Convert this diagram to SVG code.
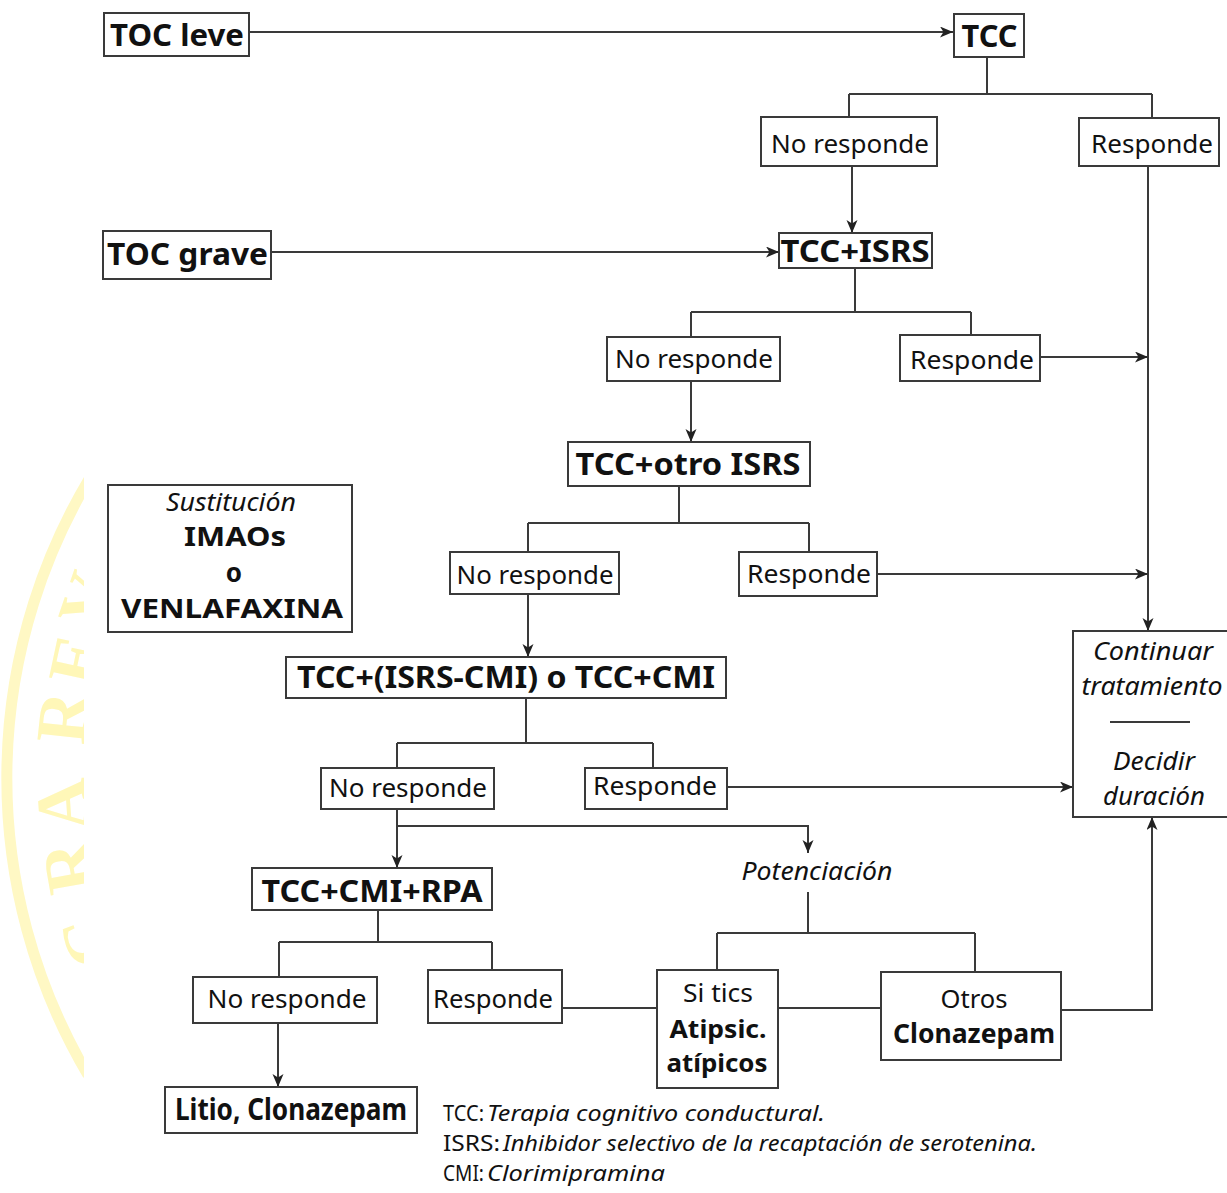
<svg xmlns="http://www.w3.org/2000/svg" width="1227" height="1193" viewBox="0 0 1227 1193">
<defs>
<marker id="ah" markerUnits="userSpaceOnUse" markerWidth="14" markerHeight="12" refX="13" refY="5.5" orient="auto">
<path d="M0,0 L13,5.5 L0,11 L3.5,5.5 Z" fill="#222"/>
</marker>
<clipPath id="wmclip"><rect x="0" y="0" width="84" height="1193"/></clipPath>
</defs>
<style>
.box{fill:#fff;stroke:#3a3a3a;stroke-width:2}
.ln{fill:none;stroke:#3a3a3a;stroke-width:2}
.ar{fill:none;stroke:#3a3a3a;stroke-width:2;marker-end:url(#ah)}
.b{font-family:"Noto Sans","Open Sans",sans-serif;font-weight:bold;font-size:30px;fill:#111;text-anchor:middle}
.r{font-family:"Noto Sans","Open Sans",sans-serif;font-size:26px;fill:#111;text-anchor:middle}
.i{font-family:"Noto Sans","Open Sans",sans-serif;font-style:italic;font-size:26px;fill:#111;text-anchor:middle}
.tb{font-weight:bold;font-style:normal}
.tr{font-weight:normal;font-style:normal}
.lg{font-family:"Noto Sans","Open Sans",sans-serif;font-size:22px;fill:#111}
.lgi{font-family:"Noto Sans","Open Sans",sans-serif;font-style:italic;font-size:22px;fill:#111}
.wm{font-family:"Liberation Serif",serif;font-weight:bold;font-size:72px;fill:#FFF7B8;text-anchor:middle}
</style>
<rect x="0" y="0" width="1227" height="1193" fill="#fff"/>
<g id="watermark" clip-path="url(#wmclip)">
<path d="M101,460 A584,584 0 0 0 88,1075" fill="none" stroke="#FFF8C4" stroke-width="11"/>
<text class="wm" transform="translate(111,608) rotate(-71)">V</text>
<text class="wm" transform="translate(100,665) rotate(-78)">E</text>
<text class="wm" transform="translate(87,720) rotate(-84)">R</text>
<text class="wm" transform="translate(86,803) rotate(-94)">A</text>
<text class="wm" transform="translate(93,863) rotate(-100)">R</text>
<text class="wm" transform="translate(112,933) rotate(-109)">C</text>
</g>
<g id="connectors">
<path class="ar" d="M249,32 H953"/>
<path class="ln" d="M987,57 V94 M849,94 H1152 M849,94 V117 M1152,94 V118"/>
<path class="ar" d="M852,166 V233"/>
<path class="ar" d="M1148,166 V631"/>
<path class="ar" d="M271,252 H779"/>
<path class="ln" d="M855,268 V312 M691,312 H971 M691,312 V337 M971,312 V335"/>
<path class="ar" d="M1040,357 H1148"/>
<path class="ar" d="M691,381 V442"/>
<path class="ln" d="M679,486 V523 M528,523 H809 M528,523 V552 M809,523 V552"/>
<path class="ar" d="M877,574 H1148"/>
<path class="ar" d="M528,594 V657"/>
<path class="ln" d="M526,698 V743 M397,743 H653 M397,743 V768 M653,743 V768"/>
<path class="ar" d="M727,787 H1073"/>
<path class="ar" d="M397,809 V868"/>
<path class="ar" d="M397,826 H808 V853"/>
<path class="ln" d="M808,892 V933 M717,933 H975 M717,933 V970 M975,933 V972"/>
<path class="ln" d="M378,910 V942 M279,942 H492 M279,942 V977 M492,942 V970"/>
<path class="ar" d="M278,1023 V1087"/>
<path class="ln" d="M562,1008 H657 M778,1008 H881"/>
<path class="ar" d="M1061,1010 H1152 V817"/>
</g>
<g id="toc-leve"><rect class="box" x="104" y="13" width="145" height="43"/><text class="b" x="177" y="46" textLength="134" lengthAdjust="spacingAndGlyphs">TOC leve</text></g>
<g id="tcc"><rect class="box" x="954" y="14" width="70" height="43"/><text class="b" x="989.5" y="47" textLength="56" lengthAdjust="spacingAndGlyphs">TCC</text></g>
<g id="no-responde-1"><rect class="box" x="761" y="117" width="176" height="49"/><text class="r" x="850" y="153" textLength="158" lengthAdjust="spacingAndGlyphs">No responde</text></g>
<g id="responde-1"><rect class="box" x="1079" y="118" width="140" height="48"/><text class="r" x="1152" y="153" textLength="122" lengthAdjust="spacingAndGlyphs">Responde</text></g>
<g id="toc-grave"><rect class="box" x="103" y="231" width="168" height="48"/><text class="b" x="187.5" y="265" textLength="161" lengthAdjust="spacingAndGlyphs">TOC grave</text></g>
<g id="tcc-isrs"><rect class="box" x="779" y="233" width="153" height="35"/><text class="b" x="855" y="262" textLength="149" lengthAdjust="spacingAndGlyphs">TCC+ISRS</text></g>
<g id="no-responde-2"><rect class="box" x="607" y="337" width="173" height="44"/><text class="r" x="694" y="368" textLength="158" lengthAdjust="spacingAndGlyphs">No responde</text></g>
<g id="responde-2"><rect class="box" x="900" y="335" width="140" height="46"/><text class="r" x="972" y="369" textLength="124" lengthAdjust="spacingAndGlyphs">Responde</text></g>
<g id="tcc-otro-isrs"><rect class="box" x="568" y="442" width="242" height="44"/><text class="b" x="688" y="475" textLength="225" lengthAdjust="spacingAndGlyphs">TCC+otro ISRS</text></g>
<g id="sustitucion"><rect class="box" x="108" y="485" width="244" height="147"/>
<text class="i" font-size="24"><tspan x="231" y="511" textLength="130" lengthAdjust="spacingAndGlyphs">Sustitución</tspan><tspan class="tb" font-size="26" x="235" y="546" textLength="102" lengthAdjust="spacingAndGlyphs">IMAOs</tspan><tspan class="tb" font-size="26" x="234" y="582">o</tspan><tspan class="tb" font-size="26" x="232" y="618" textLength="222" lengthAdjust="spacingAndGlyphs">VENLAFAXINA</tspan></text></g>
<g id="no-responde-3"><rect class="box" x="450" y="552" width="169" height="42"/><text class="r" x="535" y="584" textLength="157" lengthAdjust="spacingAndGlyphs">No responde</text></g>
<g id="responde-3"><rect class="box" x="739" y="552" width="138" height="44"/><text class="r" x="809" y="583" textLength="124" lengthAdjust="spacingAndGlyphs">Responde</text></g>
<g id="tcc-isrs-cmi"><rect class="box" x="286" y="657" width="440" height="41"/><text class="b" x="506" y="688" textLength="418" lengthAdjust="spacingAndGlyphs">TCC+(ISRS-CMI) o TCC+CMI</text></g>
<g id="continuar"><rect class="box" x="1073" y="631" width="160" height="186"/>
<text class="i" font-size="25"><tspan x="1153" y="660" textLength="120" lengthAdjust="spacingAndGlyphs">Continuar</tspan><tspan x="1152" y="695" textLength="141" lengthAdjust="spacingAndGlyphs">tratamiento</tspan></text>
<path class="ln" d="M1110,722 H1190"/>
<text class="i" font-size="25"><tspan x="1154" y="770" textLength="82" lengthAdjust="spacingAndGlyphs">Decidir</tspan><tspan x="1154" y="805" textLength="102" lengthAdjust="spacingAndGlyphs">duración</tspan></text></g>
<g id="no-responde-4"><rect class="box" x="321" y="768" width="173" height="41"/><text class="r" x="408" y="797" textLength="158" lengthAdjust="spacingAndGlyphs">No responde</text></g>
<g id="responde-4"><rect class="box" x="585" y="768" width="142" height="41"/><text class="r" x="655" y="795" textLength="124" lengthAdjust="spacingAndGlyphs">Responde</text></g>
<g id="potenciacion"><text class="i" x="817" y="880" textLength="151" lengthAdjust="spacingAndGlyphs">Potenciación</text></g>
<g id="tcc-cmi-rpa"><rect class="box" x="252" y="868" width="240" height="42"/><text class="b" x="372" y="902" textLength="221" lengthAdjust="spacingAndGlyphs">TCC+CMI+RPA</text></g>
<g id="no-responde-5"><rect class="box" x="193" y="977" width="184" height="46"/><text class="r" x="287" y="1008" textLength="159" lengthAdjust="spacingAndGlyphs">No responde</text></g>
<g id="responde-5"><rect class="box" x="428" y="970" width="134" height="53"/><text class="r" x="493" y="1008" textLength="120" lengthAdjust="spacingAndGlyphs">Responde</text></g>
<g id="si-tics"><rect class="box" x="657" y="970" width="121" height="118"/>
<text class="r" font-size="24"><tspan x="718" y="1002" textLength="70" lengthAdjust="spacingAndGlyphs">Si tics</tspan><tspan class="tb" font-size="25" x="718" y="1038" textLength="97" lengthAdjust="spacingAndGlyphs">Atipsic.</tspan><tspan class="tb" font-size="25" x="717" y="1072" textLength="101" lengthAdjust="spacingAndGlyphs">atípicos</tspan></text></g>
<g id="otros"><rect class="box" x="881" y="972" width="180" height="88"/>
<text class="r" font-size="25"><tspan x="974" y="1008" textLength="67" lengthAdjust="spacingAndGlyphs">Otros</tspan><tspan class="tb" font-size="26" x="974" y="1043" textLength="162" lengthAdjust="spacingAndGlyphs">Clonazepam</tspan></text></g>
<g id="litio"><rect class="box" x="165" y="1087" width="252" height="46"/><text class="b" x="291" y="1120" font-size="27" textLength="232" lengthAdjust="spacingAndGlyphs">Litio, Clonazepam</text></g>
<g id="legend">
<text class="lg" x="443" y="1121" textLength="41" lengthAdjust="spacingAndGlyphs">TCC:</text>
<text class="lgi" x="487" y="1121" textLength="338" lengthAdjust="spacingAndGlyphs">Terapia cognitivo conductural.</text>
<text class="lg" x="443" y="1151" textLength="57" lengthAdjust="spacingAndGlyphs">ISRS:</text>
<text class="lgi" x="503" y="1151" textLength="534" lengthAdjust="spacingAndGlyphs">Inhibidor selectivo de la recaptación de serotenina.</text>
<text class="lg" x="443" y="1181" textLength="41" lengthAdjust="spacingAndGlyphs">CMI:</text>
<text class="lgi" x="487" y="1181" textLength="178" lengthAdjust="spacingAndGlyphs">Clorimipramina</text>
</g>
</svg>
